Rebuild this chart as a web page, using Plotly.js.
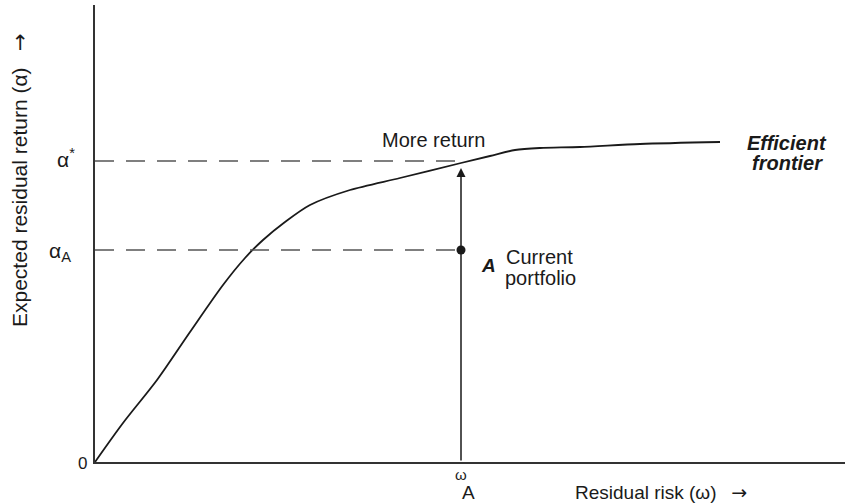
<!DOCTYPE html>
<html>
<head>
<meta charset="utf-8">
<script src="https://cdn.plot.ly/plotly-3.0.1.min.js"></script>
<style>html,body{margin:0;padding:0;background:#fff;}#chart{width:847px;height:504px;}</style>
</head>
<body>
<div id="chart"></div>
<script>
// Efficient frontier (residual risk vs expected residual return), arbitrary units
const frontierRisk   = [0, 28, 62, 95, 128, 150, 168, 190, 215, 255, 305, 366, 395, 420, 445, 485, 545, 625];
const frontierReturn = [0, 39, 82, 130, 177, 204, 222, 240, 257, 272, 284, 299, 306, 312, 314, 315, 318, 320];

// Key levels
const omegaA = 366;      // residual risk of current portfolio A
const alphaA = 212;      // expected residual return of A
const alphaStar = 301;   // return on the frontier at same risk

const FONT = 'Liberation Sans, Arial, Helvetica, sans-serif';
const SERIF = 'Liberation Serif, Times New Roman, serif';
const INK = '#1a1a1a';
const ARROW = '<span style="font-family:DejaVu Sans">→</span>';

const traces = [
  {x: frontierRisk, y: frontierReturn, mode: 'lines', line: {color: INK, width: 1.8, shape: 'spline', smoothing: 0.8}, hoverinfo: 'skip'},
  {x: [0, omegaA], y: [alphaStar, alphaStar], mode: 'lines', line: {color: '#555', width: 1.4, dash: '19px,12px'}, hoverinfo: 'skip'},
  {x: [0, omegaA], y: [alphaA, alphaA], mode: 'lines', line: {color: '#555', width: 1.4, dash: '19px,12px'}, hoverinfo: 'skip'},
  {x: [omegaA], y: [alphaA], mode: 'markers', marker: {color: INK, size: 9}, hoverinfo: 'skip'}
];

const txt = (size, extra) => Object.assign({family: FONT, size: size, color: INK}, extra || {});

const annotations = [
  // vertical arrow from axis to the frontier
  {x: omegaA, y: alphaStar - 7, ax: omegaA, ay: 0, xref: 'x', yref: 'y', axref: 'x', ayref: 'y',
   showarrow: true, arrowhead: 2, arrowsize: 1.2, arrowwidth: 1.5, arrowcolor: INK, text: ''},
  {x: 338, y: 322, xref: 'x', yref: 'y', text: 'More return', showarrow: false,
   xanchor: 'center', yanchor: 'middle', font: txt(20)},
  {x: 393, y: 197, xref: 'x', yref: 'y', text: '<b><i>A</i></b>', showarrow: false,
   xanchor: 'center', yanchor: 'middle', font: txt(19)},
  {x: 409, y: 205, xref: 'x', yref: 'y', text: 'Current', showarrow: false,
   xanchor: 'left', yanchor: 'middle', font: txt(20)},
  {x: 408, y: 184, xref: 'x', yref: 'y', text: 'portfolio', showarrow: false,
   xanchor: 'left', yanchor: 'middle', font: txt(20)},
  {x: 692, y: 319, xref: 'x', yref: 'y', text: '<b><i>Efficient</i></b>', showarrow: false,
   xanchor: 'center', yanchor: 'middle', font: txt(20)},
  {x: 692, y: 299, xref: 'x', yref: 'y', text: '<b><i>frontier</i></b>', showarrow: false,
   xanchor: 'center', yanchor: 'middle', font: txt(20)},
  // y-axis labels
  {x: 0, y: 0, xref: 'x', yref: 'y', text: '0', showarrow: false, xanchor: 'right', yanchor: 'middle',
   xshift: -6, yshift: -1, font: txt(17)},
  {x: 0, y: alphaA, xref: 'x', yref: 'y', text: 'α<sub>A</sub>', showarrow: false,
   xanchor: 'right', yanchor: 'middle', xshift: -22, yshift: -2, font: txt(21)},
  {x: 0, y: alphaStar, xref: 'x', yref: 'y', text: 'α<sup>*</sup>', showarrow: false,
   xanchor: 'right', yanchor: 'middle', xshift: -18, yshift: 3, font: txt(21)},
  // x-axis special label
  {x: omegaA, y: 0, xref: 'x', yref: 'y', text: 'ω', showarrow: false,
   xanchor: 'center', yanchor: 'middle', yshift: -12, font: txt(15)},
  {x: omegaA, y: 0, xref: 'x', yref: 'y', text: 'A', showarrow: false,
   xanchor: 'center', yanchor: 'middle', xshift: 7, yshift: -30, font: txt(19)},
  // axis titles
  {x: 478, y: 0, xref: 'x', yref: 'y', text: 'Residual risk (ω)\u2002 ' + ARROW, showarrow: false,
   xanchor: 'left', yanchor: 'middle', yshift: -30, font: txt(19)},
  {x: 0, y: 282, xref: 'x', yref: 'y', text: 'Expected residual return (α)\u2002 ' + ARROW, showarrow: false,
   textangle: -90, xanchor: 'center', yanchor: 'middle', xshift: -75, font: txt(21)}
];

const layout = {
  width: 847, height: 504,
  margin: {l: 95, r: 2, t: 5, b: 42},
  paper_bgcolor: '#fff', plot_bgcolor: '#fff',
  showlegend: false,
  xaxis: {range: [0, 750], showline: true, linecolor: '#333', linewidth: 1.6, showgrid: false, zeroline: false,
          showticklabels: false, ticks: '', fixedrange: true},
  yaxis: {range: [0, 457], showline: true, linecolor: '#333', linewidth: 1.6, showgrid: false, zeroline: false,
          showticklabels: false, ticks: '', fixedrange: true},
  annotations: annotations
};

Plotly.newPlot('chart', traces, layout, {displayModeBar: false, staticPlot: true});
</script>
</body>
</html>
